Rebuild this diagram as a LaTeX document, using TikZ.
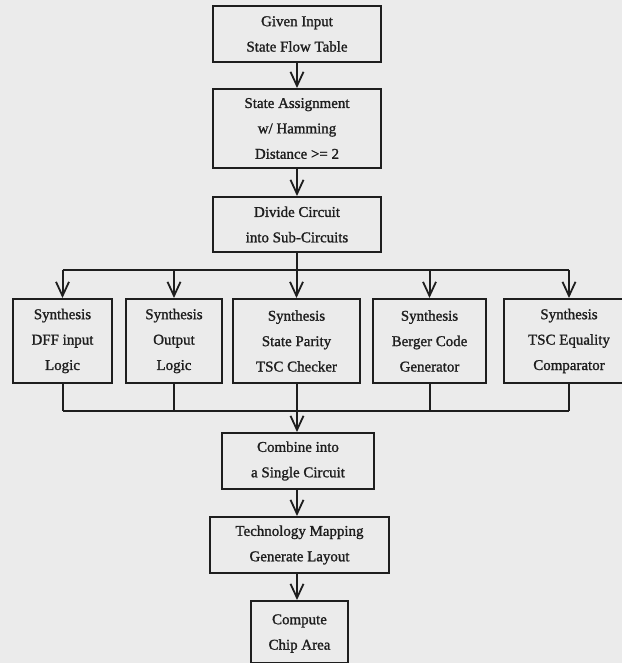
\documentclass[tikz,border=0pt]{standalone}
\usepackage{fontspec}
\setmainfont[FakeBold=1.3]{Liberation Serif}
\usetikzlibrary{arrows.meta}
\definecolor{paper}{HTML}{EBEBEB}
\definecolor{ink}{HTML}{1E1E1E}
\begin{document}
\begin{tikzpicture}[x=1bp,y=-1bp,
  box/.style={draw=ink,line width=2bp,inner sep=0pt,align=center,font=\fontsize{15}{25.5}\selectfont,text=ink},
  conn/.style={draw=ink,line width=2bp},
  arr/.style={conn,-{Straight Barb[length=14bp,width=13bp,line width=1.8bp]}}]
\fill[paper] (0,0) rectangle (622,663);
\useasboundingbox (0,0) rectangle (622,663);
\begin{scope}
\clip (0,0) rectangle (622,663);
\node[box,minimum width=168bp,minimum height=56bp] (n1) at (297,34) {Given Input\\State Flow Table};
\node[box,minimum width=168bp,minimum height=79bp] (n2) at (297,128.5) {State Assignment\\w/ Hamming\\Distance >= 2};
\node[box,minimum width=168bp,minimum height=55bp] (n3) at (297,224.5) {Divide Circuit\\into Sub-Circuits};
\node[box,minimum width=99bp,minimum height=84bp] (a) at (62.5,341) {Synthesis\\DFF input\\Logic};
\node[box,minimum width=96bp,minimum height=84bp] (b) at (174,341) {Synthesis\\Output\\Logic};
\node[box,minimum width=127bp,minimum height=84bp] (c) at (296.5,341) {Synthesis\\State Parity\\TSC Checker};
\node[box,minimum width=113bp,minimum height=84bp] (d) at (429.5,341) {Synthesis\\Berger Code\\Generator};
\node[box,minimum width=130bp,minimum height=84bp] (e) at (569,341) {Synthesis\\TSC Equality\\Comparator};
\node[box,minimum width=152bp,minimum height=56bp] (n4) at (298,461) {Combine into\\a Single Circuit};
\node[box,minimum width=179bp,minimum height=56bp] (n5) at (299.5,545) {Technology Mapping\\Generate Layout};
\node[box,minimum width=97bp,minimum height=62bp,text depth=0pt] (n6) at (299.5,632) {Compute\\Chip Area};
\coordinate (top) at (297,270);
\coordinate (bot) at (297,411);
\draw[arr] (n1.south) -- (n2.north);
\draw[arr] (n2.south) -- (n3.north);
\draw[conn] (n3.south) -- (top);
\draw[conn] (a.north|-top) -- (e.north|-top);
\foreach \n in {a,b,c,d,e} {\draw[arr] (\n.north|-top) -- (\n.north);}
\foreach \n in {a,b,c,d,e} {\draw[conn] (\n.south) -- (\n.south|-bot);}
\draw[conn] (a.south|-bot) -- (e.south|-bot);
\draw[arr] (bot) -- (n4.north-|bot);
\draw[arr] (n4.south-|bot) -- (n5.north-|bot);
\draw[arr] (n5.south-|bot) -- (n6.north-|bot);
\end{scope}
\end{tikzpicture}
\end{document}
